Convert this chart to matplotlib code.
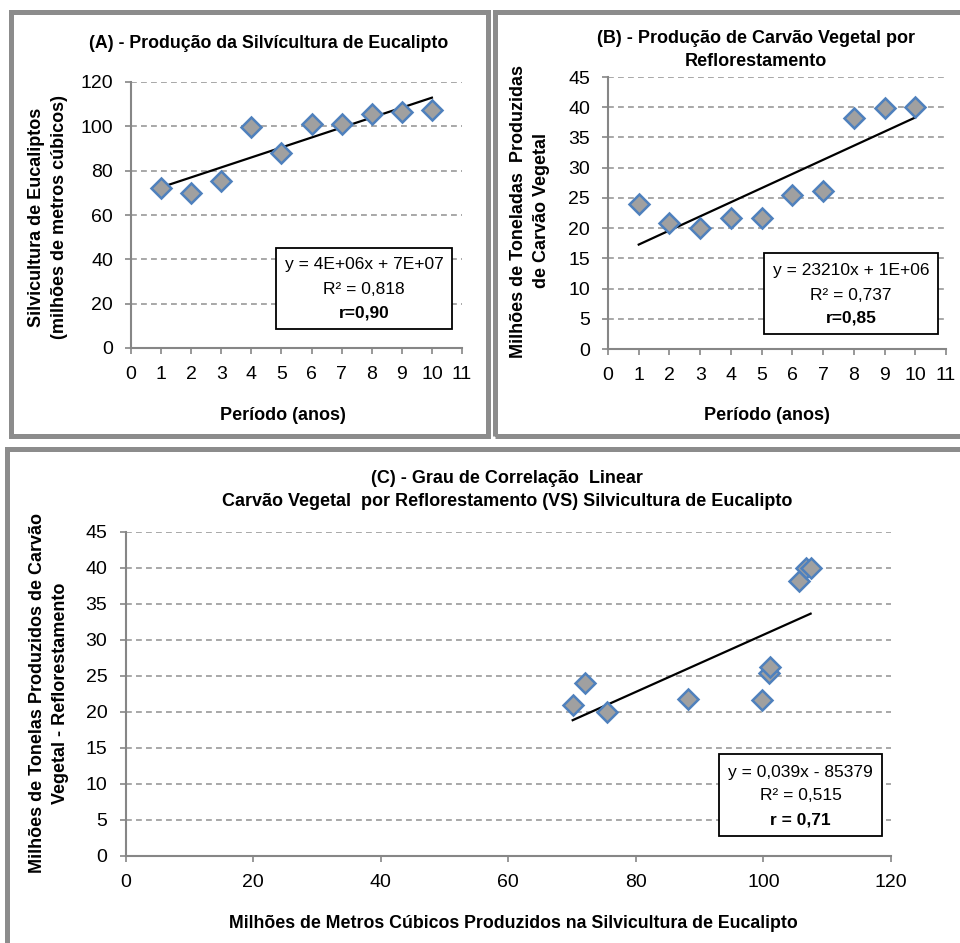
import matplotlib
matplotlib.use("Agg")
import matplotlib.pyplot as plt
from matplotlib.patches import Rectangle
import numpy as np

# ---- data ----
periodo = [1, 2, 3, 4, 5, 6, 7, 8, 9, 10]
silvicultura = [72.0, 70.1, 75.5, 99.8, 88.1, 100.9, 101.1, 105.6, 106.6, 107.4]
carvao = [24.0, 20.9, 20.0, 21.6, 21.7, 25.4, 26.2, 38.2, 39.9, 40.0]

title_a = "(A) - Produção da Silvícultura de Eucalipto"
title_b = "(B) - Produção de Carvão Vegetal por\nReflorestamento"
title_c = "(C) - Grau de Correlação  Linear\nCarvão Vegetal  por Reflorestamento (VS) Silvicultura de Eucalipto"
ylabel_a = "Silvicultura de Eucaliptos\n(milhões de metros cúbicos)"
ylabel_b = "Milhões de Toneladas  Produzidas\nde Carvão Vegetal"
ylabel_c = "Milhões de Tonelas Produzidos de Carvão\nVegetal - Reflorestamento"
xlabel_ab = "Período (anos)"
xlabel_c = "Milhões de Metros Cúbicos Produzidos na Silvicultura de Eucalipto"
eq_a = ["y = 4E+06x + 7E+07", "R² = 0,818", "r=0,90"]
eq_b = ["y = 23210x + 1E+06", "R² = 0,737", "r=0,85"]
eq_c = ["y = 0,039x - 85379", "R² = 0,515", "r = 0,71"]

plt.rcParams['font.family'] = ["Liberation Sans", "DejaVu Sans"]

W, H = 960, 943
fig = plt.figure(figsize=(W / 100, H / 100), dpi=100)

def fx(px):
    return px / W

def fy(py):
    return 1 - py / H

FRAME = "#8c8c8c"
# panel frames
for (x0, y0, x1, y1) in [(11, 12, 488, 436), (495, 12, 975, 436), (7, 449, 975, 960)]:
    fig.patches.append(Rectangle((fx(x0), fy(y1)), fx(x1) - fx(x0), fy(y0) - fy(y1),
                                 transform=fig.transFigure, fill=False,
                                 edgecolor=FRAME, linewidth=3.6, zorder=0))

GRID = "#9a9a9a"
SPINE = "#868686"
MFACE = "#a0a0a0"
MEDGE = "#4f81bd"
TICKFS = 14

def style_axes(ax):
    for s in ["top", "right"]:
        ax.spines[s].set_visible(False)
    for s in ["left", "bottom"]:
        ax.spines[s].set_color(SPINE)
        ax.spines[s].set_linewidth(1.5)
    ax.yaxis.grid(True, color=GRID, linestyle=(0, (3.5, 2.5)), linewidth=1.2)
    ax.set_axisbelow(True)
    ax.tick_params(axis="both", direction="out", length=4.5, width=1.2,
                   color=SPINE, labelsize=TICKFS, pad=8.5)

def eq_box(x0, y0, x1, y1, lines, ys, fs=12.5):
    fig.patches.append(Rectangle((fx(x0), fy(y1)), fx(x1) - fx(x0), fy(y0) - fy(y1),
                                 transform=fig.transFigure, facecolor="white",
                                 edgecolor="black", linewidth=1.3, zorder=5))
    cx = fx((x0 + x1) / 2)
    for i, (t, yy) in enumerate(zip(lines, ys)):
        fig.text(cx, fy(yy), t, ha="center", va="center", fontsize=fs,
                 fontweight="bold" if i == 2 else "normal", zorder=6)

def scatter_trend(ax, x, y, xs):
    c = np.polyfit(x, y, 1)
    xs = np.array(xs)
    ax.plot(xs, np.polyval(c, xs), color="black", lw=1.6, zorder=3)
    ax.plot(x, y, linestyle="none", marker="D", markersize=10.5,
            markerfacecolor=MFACE, markeredgecolor=MEDGE, markeredgewidth=1.8, zorder=4)

# ---- panel A ----
axA = fig.add_axes([fx(131), fy(348), fx(462) - fx(131), fy(82) - fy(348)])
style_axes(axA)
scatter_trend(axA, periodo, silvicultura, [min(periodo), max(periodo)])
axA.set_xlim(0, 11)
axA.set_ylim(0, 120)
axA.set_xticks(range(0, 12))
axA.set_yticks(range(0, 121, 20))
fig.text(fx(269), fy(43), title_a, ha="center", va="center", fontsize=12.8, fontweight="bold")
fig.text(fx(283), fy(415), xlabel_ab, ha="center", va="center", fontsize=13, fontweight="bold")
fig.text(fx(48), fy(217), ylabel_a, ha="center", va="center", fontsize=13,
         fontweight="bold", rotation=90, linespacing=1.45)

eq_box(276, 248, 452, 329, eq_a, [265, 290, 313])

# ---- panel B ----
axB = fig.add_axes([fx(608), fy(349), fx(946) - fx(608), fy(77) - fy(349)])
style_axes(axB)
scatter_trend(axB, periodo, carvao, [min(periodo), max(periodo)])
axB.set_xlim(0, 11)
axB.set_ylim(0, 45)
axB.set_xticks(range(0, 12))
axB.set_yticks(range(0, 46, 5))
fig.text(fx(756), fy(50), title_b, ha="center", va="center", fontsize=13,
         fontweight="bold", linespacing=1.45)
fig.text(fx(767), fy(415), xlabel_ab, ha="center", va="center", fontsize=13, fontweight="bold")
fig.text(fx(530), fy(211), ylabel_b, ha="center", va="center", fontsize=13,
         fontweight="bold", rotation=90, linespacing=1.45)
eq_box(764, 253, 938, 334, eq_b, [270, 295, 318])

# ---- panel C ----
axC = fig.add_axes([fx(125.5), fy(855.7), fx(891) - fx(125.5), fy(531.7) - fy(855.7)])
style_axes(axC)
scatter_trend(axC, silvicultura, carvao, [min(silvicultura), max(silvicultura)])
axC.set_xlim(0, 120)
axC.set_ylim(0, 45)
axC.set_xticks(range(0, 121, 20))
axC.set_yticks(range(0, 46, 5))
fig.text(fx(507), fy(490), title_c, ha="center", va="center", fontsize=13,
         fontweight="bold", linespacing=1.45)
fig.text(fx(513), fy(923), xlabel_c, ha="center", va="center", fontsize=12.8, fontweight="bold")
fig.text(fx(49), fy(693), ylabel_c, ha="center", va="center", fontsize=13,
         fontweight="bold", rotation=90, linespacing=1.4)
eq_box(719, 754, 882, 836, eq_c, [772, 796, 820])

fig.savefig("out.png", dpi=100)
